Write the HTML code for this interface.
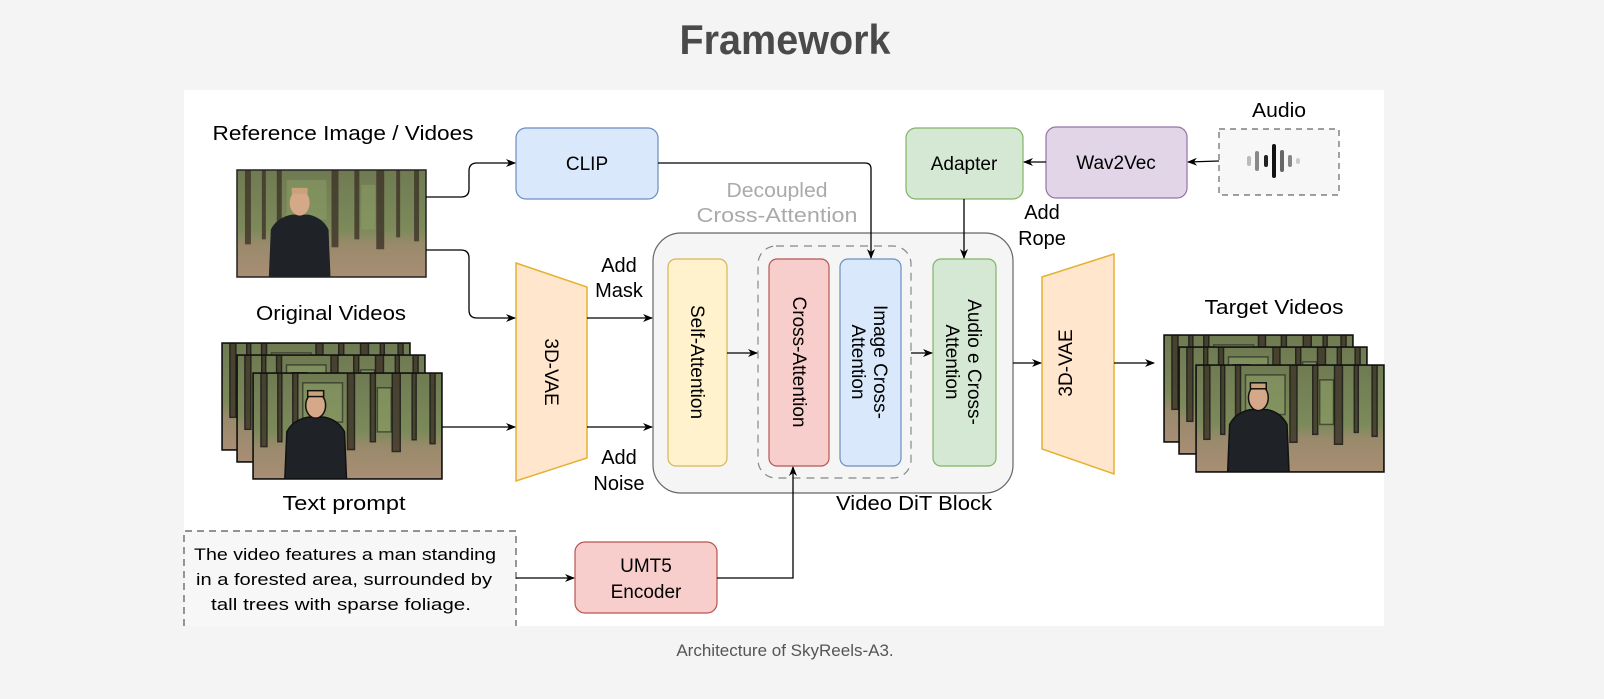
<!DOCTYPE html>
<html><head><meta charset="utf-8"><style>
html,body{margin:0;padding:0;background:#f4f4f4;}
svg{display:block;}
.h{font-family:"Liberation Sans",sans-serif;}
</style></head><body>
<svg width="1604" height="699" viewBox="0 0 1604 699" xmlns="http://www.w3.org/2000/svg">
<defs>
<marker id="ar" markerWidth="10" markerHeight="10" refX="9" refY="5" orient="auto" markerUnits="userSpaceOnUse">
<path d="M0,1 L10,5 L0,9 L3,5 Z" fill="#000"/></marker>
<linearGradient id="grd" x1="0" y1="0" x2="0" y2="1">
<stop offset="0" stop-color="#6f7a52"/><stop offset="0.55" stop-color="#7c8a5a"/><stop offset="0.7" stop-color="#9a8a6c"/><stop offset="1" stop-color="#a88e74"/></linearGradient>
<symbol id="photo" viewBox="0 0 190 108" preserveAspectRatio="none">
<rect width="190" height="108" fill="url(#grd)"/>
<g fill="#3e3328" opacity="0.8">
<rect x="8" y="0" width="6" height="75"/><rect x="25" y="0" width="4" height="70"/><rect x="40" y="0" width="5" height="72"/>
<rect x="95" y="0" width="7" height="78"/><rect x="118" y="0" width="5" height="70"/><rect x="140" y="0" width="8" height="80"/>
<rect x="160" y="0" width="4" height="68"/><rect x="178" y="0" width="5" height="72"/></g>
<g fill="#8da067" opacity="0.5"><rect x="50" y="10" width="40" height="40"/><rect x="125" y="15" width="14" height="45"/></g>
<path d="M32,108 L34,60 Q40,48 55,45 L72,45 Q86,48 92,60 L94,108 Z" fill="#1f2226"/>
<ellipse cx="63" cy="33" rx="10" ry="13" fill="#d6a88a"/>
<rect x="55" y="18" width="16" height="6" fill="#c9a27a"/>
</symbol>
</defs>

<text x="785" y="54" text-anchor="middle" class="h" font-size="42" font-weight="bold" fill="#4a4a4a" textLength="211" lengthAdjust="spacingAndGlyphs">Framework</text>

<rect x="184" y="90" width="1200" height="536" fill="#fff"/>

<g class="h" font-size="20" fill="#000" text-anchor="middle" lengthAdjust="spacingAndGlyphs">
<text x="343" y="140" textLength="261" lengthAdjust="spacingAndGlyphs">Reference Image / Vidoes</text>
<text x="331" y="320" textLength="150" lengthAdjust="spacingAndGlyphs">Original Videos</text>
<text x="344" y="510" textLength="123" lengthAdjust="spacingAndGlyphs">Text prompt</text>
<text x="1279" y="117" textLength="54" lengthAdjust="spacingAndGlyphs">Audio</text>
<text x="1274" y="314" textLength="139" lengthAdjust="spacingAndGlyphs">Target Videos</text>
<text x="914" y="510" textLength="156" lengthAdjust="spacingAndGlyphs">Video DiT Block</text>
<text x="619" y="272">Add</text><text x="619" y="297">Mask</text>
<text x="619" y="464">Add</text><text x="619" y="490">Noise</text>
<text x="1042" y="219">Add</text><text x="1042" y="245">Rope</text>
<text x="777" y="197" fill="#aaa" textLength="101" lengthAdjust="spacingAndGlyphs">Decoupled</text>
<text x="777" y="222" fill="#aaa" textLength="161" lengthAdjust="spacingAndGlyphs">Cross-Attention</text>
</g>

<!-- ref image -->
<use href="#photo" x="237" y="170" width="189" height="107"/>
<rect x="237" y="170" width="189" height="107" fill="none" stroke="#222" stroke-width="1.5"/>
<g stroke="#111" stroke-width="1.5">
<use href="#photo" x="222" y="343" width="188" height="107"/><rect x="222" y="343" width="188" height="107" fill="none"/>
<use href="#photo" x="237" y="355" width="188" height="107"/><rect x="237" y="355" width="188" height="107" fill="none"/>
<use href="#photo" x="253" y="373" width="189" height="106"/><rect x="253" y="373" width="189" height="106" fill="none"/>
<use href="#photo" x="1164" y="335" width="189" height="107"/><rect x="1164" y="335" width="189" height="107" fill="none"/>
<use href="#photo" x="1179" y="347" width="188" height="107"/><rect x="1179" y="347" width="188" height="107" fill="none"/>
<use href="#photo" x="1196" y="365" width="188" height="107"/><rect x="1196" y="365" width="188" height="107" fill="none"/>
</g>

<rect x="516" y="128" width="142" height="71" rx="10" fill="#dae8fc" stroke="#6c8ebf" stroke-width="1.2"/>
<text x="587" y="170" text-anchor="middle" class="h" font-size="19">CLIP</text>
<rect x="906" y="128" width="117" height="71" rx="10" fill="#d5e8d4" stroke="#82b366" stroke-width="1.2"/>
<text x="964" y="170" text-anchor="middle" class="h" font-size="19">Adapter</text>
<rect x="1046" y="127" width="141" height="71" rx="10" fill="#e1d5e7" stroke="#9673a6" stroke-width="1.2"/>
<text x="1116" y="169" text-anchor="middle" class="h" font-size="19">Wav2Vec</text>
<rect x="1219" y="129" width="120" height="66" fill="#f7f7f7" stroke="#666" stroke-dasharray="6 5" stroke-width="1.2"/>
<g stroke-linecap="round">
<line x1="1249" y1="158" x2="1249" y2="164" stroke="#bbb" stroke-width="4"/>
<line x1="1257" y1="153" x2="1257" y2="169" stroke="#888" stroke-width="4"/>
<line x1="1266" y1="157" x2="1266" y2="165" stroke="#222" stroke-width="4"/>
<line x1="1274" y1="146" x2="1274" y2="176" stroke="#111" stroke-width="4"/>
<line x1="1282" y1="152" x2="1282" y2="170" stroke="#666" stroke-width="4"/>
<line x1="1290" y1="157" x2="1290" y2="165" stroke="#888" stroke-width="4"/>
<line x1="1298" y1="160" x2="1298" y2="162" stroke="#ccc" stroke-width="4"/>
</g>

<polygon points="516,263 587,287 587,458 516,481" fill="#ffe6cc" stroke="#e6b030" stroke-width="1.5"/>
<text transform="translate(545,372) rotate(90)" text-anchor="middle" class="h" font-size="19">3D-VAE</text>
<polygon points="1042,277 1114,254 1114,474 1042,449" fill="#ffe6cc" stroke="#e6b030" stroke-width="1.5"/>
<text transform="translate(1072,363) rotate(-90)" text-anchor="middle" class="h" font-size="19">3D-VAE</text>

<rect x="653" y="233" width="360" height="260" rx="28" fill="#f5f5f5" stroke="#666" stroke-width="1.2"/>
<rect x="758" y="246" width="153" height="232" rx="18" fill="none" stroke="#888" stroke-dasharray="8 6" stroke-width="1.2"/>
<rect x="668" y="259" width="59" height="207" rx="8" fill="#fff2cc" stroke="#d6b656" stroke-width="1.2"/>
<rect x="769" y="259" width="60" height="207" rx="8" fill="#f8cecc" stroke="#b85450" stroke-width="1.2"/>
<rect x="840" y="259" width="61" height="207" rx="8" fill="#dae8fc" stroke="#6c8ebf" stroke-width="1.2"/>
<rect x="933" y="259" width="63" height="207" rx="8" fill="#d5e8d4" stroke="#82b366" stroke-width="1.2"/>
<g class="h" font-size="19" text-anchor="middle">
<text transform="translate(691,362) rotate(90)">Self-Attention</text>
<text transform="translate(793,362) rotate(90)">Cross-Attention</text>
<text transform="translate(870,362) rotate(90)"><tspan x="0" y="-4">Image Cross-</tspan><tspan x="0" y="18">Attention</tspan></text>
<text transform="translate(964,362) rotate(90)"><tspan x="0" y="-4">Audio e Cross-</tspan><tspan x="0" y="18">Attention</tspan></text>
</g>

<path d="M184,626 L184,531 L516,531 L516,626" fill="#f7f7f7" stroke="#555" stroke-dasharray="7 5" stroke-width="1.2"/>
<g class="h" font-size="17" text-anchor="middle">
<text x="345" y="560" textLength="302" lengthAdjust="spacingAndGlyphs">The video features a man standing</text>
<text x="344" y="585" textLength="296" lengthAdjust="spacingAndGlyphs">in a forested area, surrounded by</text>
<text x="341" y="610" textLength="260" lengthAdjust="spacingAndGlyphs">tall trees with sparse foliage.</text>
</g>
<rect x="575" y="542" width="142" height="71" rx="10" fill="#f8cecc" stroke="#b85450" stroke-width="1.2"/>
<text x="646" y="572" text-anchor="middle" class="h" font-size="19">UMT5</text>
<text x="646" y="598" text-anchor="middle" class="h" font-size="19">Encoder</text>

<g fill="none" stroke="#000" stroke-width="1.3" marker-end="url(#ar)">
<path d="M426,197 L461,197 Q469,197 469,189 L469,171 Q469,163 477,163 L515,163"/>
<path d="M426,250 L461,250 Q469,250 469,258 L469,310 Q469,318 477,318 L515,318"/>
<path d="M442,427 L515,427"/>
<path d="M587,318 L652,318"/>
<path d="M587,427 L652,427"/>
<path d="M658,163 L865,163 Q871,163 871,169 L871,258"/>
<path d="M964,199 L964,258"/>
<path d="M1046,162 L1024,162"/>
<path d="M1219,161 L1188,162"/>
<path d="M727,353 L757,353"/>
<path d="M911,353 L932,353"/>
<path d="M1013,363 L1041,363"/>
<path d="M1114,363 L1154,363"/>
<path d="M516,578 L574,578"/>
<path d="M717,578 L793,578 L793,467"/>
</g>

<text x="785" y="656" text-anchor="middle" class="h" font-size="17" fill="#555">Architecture of SkyReels-A3.</text>
</svg>
</body></html>
